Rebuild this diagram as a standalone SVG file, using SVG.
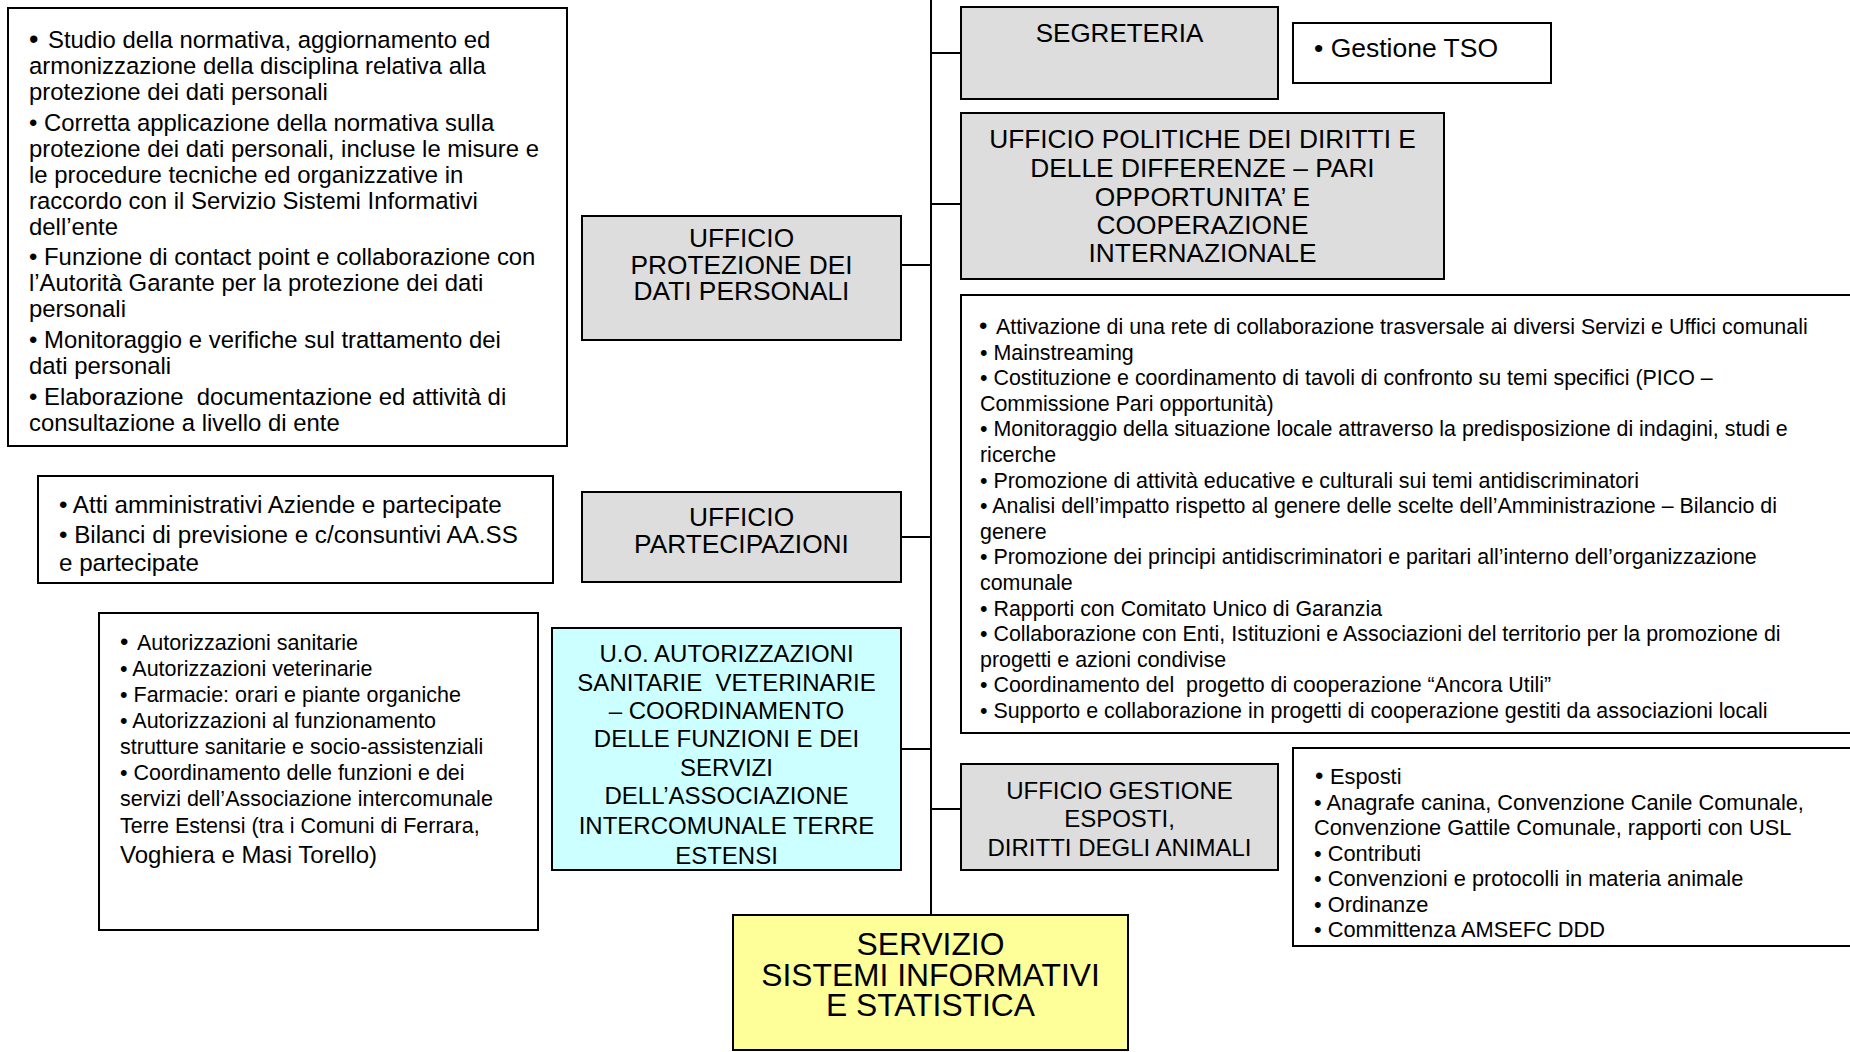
<svg xmlns="http://www.w3.org/2000/svg" width="1850" height="1052" viewBox="0 0 1850 1052">
<style>
.box{stroke:#000;stroke-width:2;fill:#fff}
.grey{fill:#dddddd}
.cyan{fill:#ccffff}
.yellow{fill:#ffff99}
.conn{stroke:#000;stroke-width:2;fill:none}
text{font-family:"Liberation Sans",Arial,sans-serif;fill:#000}
.c{text-anchor:middle}
.f237{font-size:23.9px}
.f24b{font-size:24.2px}
.f214{font-size:21.4px}
.f215{font-size:21.5px}
.f218{font-size:21.8px}
.f24{font-size:24px}
.f26{font-size:26.3px}
.f255{font-size:26px}
.f265{font-size:26.5px}
.f315{font-size:31.8px}
</style>
<rect width="1850" height="1052" fill="#fff"/>
<g id="connectors">
<line class="conn" x1="931" y1="0" x2="931" y2="915"/>
<line class="conn" x1="931" y1="53" x2="961" y2="53"/>
<line class="conn" x1="931" y1="204" x2="961" y2="204"/>
<line class="conn" x1="901" y1="265" x2="931" y2="265"/>
<line class="conn" x1="901" y1="537" x2="931" y2="537"/>
<line class="conn" x1="901" y1="749" x2="931" y2="749"/>
<line class="conn" x1="931" y1="809" x2="961" y2="809"/>
</g>
<g id="protezione-list">
<rect class="box" x="8" y="8" width="559" height="438"/>
<text class="f237" x="29" y="48"><tspan font-size="27px">•</tspan><tspan x="48">Studio della normativa, aggiornamento ed</tspan></text>
<text class="f237" x="29" y="74">armonizzazione della disciplina relativa alla</text>
<text class="f237" x="29" y="100">protezione dei dati personali</text>
<text class="f237" x="29" y="131">• Corretta applicazione della normativa sulla</text>
<text class="f237" x="29" y="157">protezione dei dati personali, incluse le misure e</text>
<text class="f237" x="29" y="183">le procedure tecniche ed organizzative in</text>
<text class="f237" x="29" y="209">raccordo con il Servizio Sistemi Informativi</text>
<text class="f237" x="29" y="235">dell’ente</text>
<text class="f237" x="29" y="265">• Funzione di contact point e collaborazione con</text>
<text class="f237" x="29" y="291">l’Autorità Garante per la protezione dei dati</text>
<text class="f237" x="29" y="317">personali</text>
<text class="f237" x="29" y="348">• Monitoraggio e verifiche sul trattamento dei</text>
<text class="f237" x="29" y="374">dati personali</text>
<text class="f237" x="29" y="405">• Elaborazione&#160; documentazione ed attività di</text>
<text class="f237" x="29" y="431">consultazione a livello di ente</text>
</g>
<g id="segreteria">
<rect class="box grey" x="961" y="7" width="317" height="92"/>
<text class="f255 c" x="1119.5" y="42">SEGRETERIA</text>
</g>
<g id="tso">
<rect class="box" x="1293" y="23" width="258" height="60"/>
<text class="f265" x="1314" y="56.5">• Gestione TSO</text>
</g>
<g id="politiche">
<rect class="box grey" x="961" y="113" width="483" height="166"/>
<text class="f26 c" x="1202.5" y="148">UFFICIO POLITICHE DEI DIRITTI E</text>
<text class="f26 c" x="1202.5" y="177">DELLE DIFFERENZE – PARI</text>
<text class="f26 c" x="1202.5" y="206">OPPORTUNITA’ E</text>
<text class="f26 c" x="1202.5" y="234">COOPERAZIONE</text>
<text class="f26 c" x="1202.5" y="262">INTERNAZIONALE</text>
</g>
<g id="politiche-list">
<rect class="box" x="961" y="295" width="900" height="438"/>
<text class="f214" x="979" y="334"><tspan font-size="24px">•</tspan><tspan x="996">Attivazione di una rete di collaborazione trasversale ai diversi Servizi e Uffici comunali</tspan></text>
<text class="f214" x="980" y="359.6">• Mainstreaming</text>
<text class="f214" x="980" y="385.2">• Costituzione e coordinamento di tavoli di confronto su temi specifici (PICO –</text>
<text class="f214" x="980" y="410.8">Commissione Pari opportunità)</text>
<text class="f214" x="980" y="436.4">• Monitoraggio della situazione locale attraverso la predisposizione di indagini, studi e</text>
<text class="f214" x="980" y="462">ricerche</text>
<text class="f214" x="980" y="487.6">• Promozione di attività educative e culturali sui temi antidiscriminatori</text>
<text class="f214" x="980" y="513.2">• Analisi dell’impatto rispetto al genere delle scelte dell’Amministrazione – Bilancio di</text>
<text class="f214" x="980" y="538.8">genere</text>
<text class="f214" x="980" y="564.4">• Promozione dei principi antidiscriminatori e paritari all’interno dell’organizzazione</text>
<text class="f214" x="980" y="590">comunale</text>
<text class="f214" x="980" y="615.6">• Rapporti con Comitato Unico di Garanzia</text>
<text class="f214" x="980" y="641.2">• Collaborazione con Enti, Istituzioni e Associazioni del territorio per la promozione di</text>
<text class="f214" x="980" y="666.8">progetti e azioni condivise</text>
<text class="f214" x="980" y="692.4">• Coordinamento del&#160; progetto di cooperazione “Ancora Utili”</text>
<text class="f214" x="980" y="718">• Supporto e collaborazione in progetti di cooperazione gestiti da associazioni locali</text>
</g>
<g id="protezione">
<rect class="box grey" x="582" y="216" width="319" height="124"/>
<text class="f26 c" x="741.5" y="247">UFFICIO</text>
<text class="f26 c" x="741.5" y="274">PROTEZIONE DEI</text>
<text class="f26 c" x="741.5" y="300">DATI PERSONALI</text>
</g>
<g id="partecipazioni">
<rect class="box grey" x="582" y="492" width="319" height="90"/>
<text class="f26 c" x="741.5" y="526">UFFICIO</text>
<text class="f26 c" x="741.5" y="553">PARTECIPAZIONI</text>
</g>
<g id="partecipazioni-list">
<rect class="box" x="38" y="476" width="515" height="107"/>
<text class="f24b" x="59" y="513">• Atti amministrativi Aziende e partecipate</text>
<text class="f24b" x="59" y="543">• Bilanci di previsione e c/consuntivi AA.SS</text>
<text class="f24b" x="59" y="571">e partecipate</text>
</g>
<g id="autorizzazioni-list">
<rect class="box" x="99" y="613" width="439" height="317"/>
<text class="f215" x="120" y="649.5"><tspan font-size="24px">•</tspan><tspan x="137">Autorizzazioni sanitarie</tspan></text>
<text class="f215" x="120" y="675.5">• Autorizzazioni veterinarie</text>
<text class="f215" x="120" y="702">• Farmacie: orari e piante organiche</text>
<text class="f215" x="120" y="727.5">• Autorizzazioni al funzionamento</text>
<text class="f215" x="120" y="754">strutture sanitarie e socio-assistenziali</text>
<text class="f215" x="120" y="779.5">• Coordinamento delle funzioni e dei</text>
<text class="f215" x="120" y="805.5">servizi dell’Associazione intercomunale</text>
<text class="f215" x="120" y="832.5">Terre Estensi (tra i Comuni di Ferrara,</text>
<text class="f24" x="120" y="862.5">Voghiera e Masi Torello)</text>
</g>
<g id="uo-autorizzazioni">
<rect class="box cyan" x="552" y="628" width="349" height="242"/>
<text class="f24 c" x="726.5" y="661.6">U.O. AUTORIZZAZIONI</text>
<text class="f24 c" x="726.5" y="690.6">SANITARIE&#160; VETERINARIE</text>
<text class="f24 c" x="726.5" y="718.6">– COORDINAMENTO</text>
<text class="f24 c" x="726.5" y="746.6">DELLE FUNZIONI E DEI</text>
<text class="f24 c" x="726.5" y="775.6">SERVIZI</text>
<text class="f24 c" x="726.5" y="803.6">DELL’ASSOCIAZIONE</text>
<text class="f24 c" x="726.5" y="833.6">INTERCOMUNALE TERRE</text>
<text class="f24 c" x="726.5" y="863.6">ESTENSI</text>
</g>
<g id="gestione-esposti">
<rect class="box grey" x="961" y="764" width="317" height="106"/>
<text class="f24 c" x="1119.5" y="798.6">UFFICIO GESTIONE</text>
<text class="f24 c" x="1119.5" y="826.6">ESPOSTI,</text>
<text class="f24 c" x="1119.5" y="855.6">DIRITTI DEGLI ANIMALI</text>
</g>
<g id="esposti-list">
<rect class="box" x="1293" y="748" width="567" height="198"/>
<text class="f218" x="1315" y="784"><tspan font-size="24px">•</tspan><tspan x="1330">Esposti</tspan></text>
<text class="f218" x="1314" y="809.5">• Anagrafe canina, Convenzione Canile Comunale,</text>
<text class="f218" x="1314" y="835">Convenzione Gattile Comunale, rapporti con USL</text>
<text class="f218" x="1314" y="860.5">• Contributi</text>
<text class="f218" x="1314" y="886">• Convenzioni e protocolli in materia animale</text>
<text class="f218" x="1314" y="911.5">• Ordinanze</text>
<text class="f218" x="1314" y="937">• Committenza AMSEFC DDD</text>
</g>
<g id="servizio">
<rect class="box yellow" x="733" y="915" width="395" height="135"/>
<text class="f315 c" x="930.5" y="955">SERVIZIO</text>
<text class="f315 c" x="930.5" y="986">SISTEMI INFORMATIVI</text>
<text class="f315 c" x="930.5" y="1016">E STATISTICA</text>
</g>
</svg>
